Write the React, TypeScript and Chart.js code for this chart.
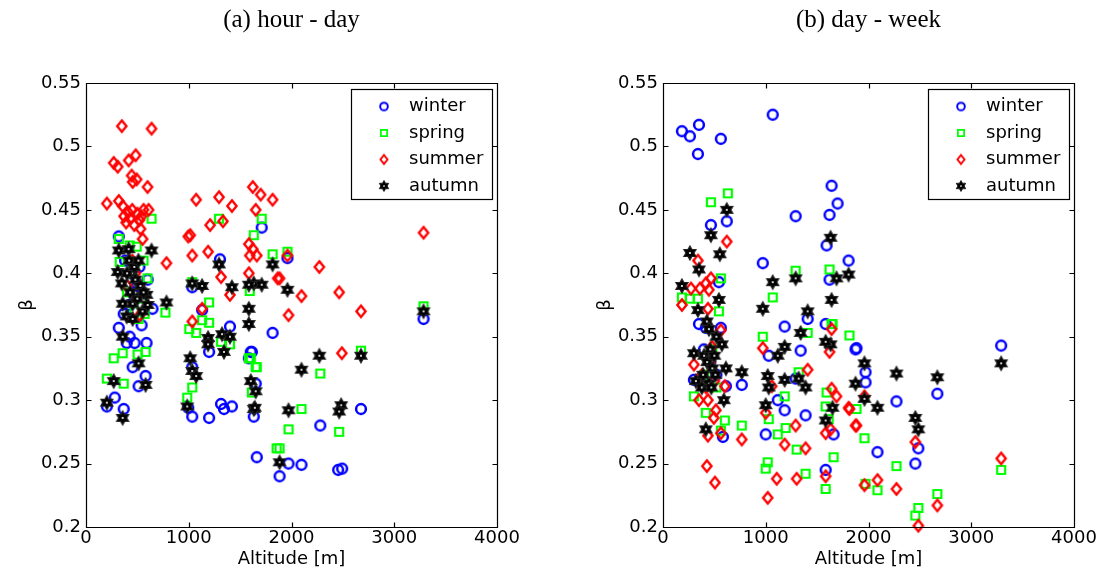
import React, { useEffect, useRef } from 'react';
import { Chart, registerables } from 'chart.js';

Chart.register(...registerables);

const FONT = "'DejaVu Sans', sans-serif";
const SERIF = "'Liberation Serif', 'Times New Roman', serif";

const panelTitles = ['(a) hour - day', '(b) day - week'];
const seriesNames = ['winter', 'spring', 'summer', 'autumn'];
const xTicks = [0, 1000, 2000, 3000, 4000];
const yTicks = [0.2, 0.25, 0.3, 0.35, 0.4, 0.45, 0.5, 0.55];
const xTitle = 'Altitude [m]';
const yTitle = 'β';

// (a) hour - day : [altitude, beta]
const winterHourDay: [number, number][] = [
  [319, .429], [1710, .436], [1304, .411], [1961, .412], [3285, .364], [1816, .353], [1614, .338],
  [1652, .313], [1633, .287], [2676, .293], [2280, .280], [1662, .255], [1884, .240], [1971, .250],
  [2097, .249], [2454, .245], [2493, .246], [319, .357], [367, .368], [541, .359], [589, .345],
  [425, .35], [473, .345], [396, .345], [454, .326], [580, .319], [512, .311], [280, .302], [203, .295],
  [367, .293], [1034, .326], [1198, .338], [1401, .358], [1314, .297], [1343, .293], [1420, .295],
  [1034, .287], [1198, .286], [995, .294], [1604, .338], [1585, .333], [1034, .389], [1130, .371],
  [647, .372], [440, .40], [470, .385], [500, .39], [420, .375], [380, .41], [520, .405], [600, .395],
];
const springHourDay: [number, number][] = [
  [319, .427], [638, .443], [1710, .443], [1295, .443], [1633, .43], [1816, .415], [1034, .393],
  [1198, .377], [773, .369], [1961, .417], [1594, .386], [3285, .374], [2676, .339], [1652, .326],
  [2280, .321], [2097, .293], [1971, .277], [2464, .275], [1884, .262], [1585, .333], [512, .364],
  [570, .368], [1005, .356], [1072, .353], [1130, .363], [1198, .361], [1314, .346], [1401, .344],
  [270, .333], [357, .337], [502, .336], [580, .338], [203, .317], [367, .313], [1034, .31], [985, .302],
  [1604, .333], [1662, .326], [1614, .306], [1855, .262], [425, .422], [493, .421], [328, .409],
  [599, .396], [450, .40], [560, .41], [400, .385], [540, .38], [470, .37],
];
const summerHourDay: [number, number][] = [
  [203, .455], [270, .487], [309, .484], [348, .516], [415, .489], [483, .493], [444, .477], [493, .474],
  [454, .472], [599, .468], [638, .514], [319, .457], [357, .453], [370, .445], [390, .44], [410, .448],
  [430, .443], [450, .45], [470, .438], [500, .447], [520, .442], [540, .445], [560, .45], [609, .45],
  [531, .435], [551, .427], [783, .408], [1072, .458], [1295, .46], [1420, .453], [1208, .438],
  [1333, .441], [995, .429], [1014, .43], [1034, .414], [1188, .417], [1314, .397], [1401, .383],
  [1623, .468], [1700, .462], [1816, .458], [1652, .45], [1585, .423], [1623, .419], [1594, .414],
  [1662, .414], [1585, .4], [1865, .396], [3285, .432], [2271, .405], [1884, .396], [2097, .382],
  [2464, .385], [1971, .367], [2676, .37], [1961, .414], [2490, .337], [522, .367], [1130, .372],
  [1034, .362], [450, .41], [400, .39], [480, .40],
];
const autumnHourDay: [number, number][] = [
  [319, .418], [638, .418], [415, .419], [309, .401], [348, .392], [1034, .392], [1130, .39], [1295, .407],
  [1420, .389], [1585, .372], [1633, .392], [1710, .391], [1816, .407], [783, .377], [357, .376],
  [454, .376], [589, .383], [1585, .391], [1961, .387], [1585, .36], [3285, .37], [2271, .335],
  [2676, .335], [2097, .324], [1604, .315], [1652, .307], [1633, .293], [1971, .292], [2483, .296],
  [2464, .291], [1884, .251], [357, .35], [512, .329], [270, .315], [580, .312], [203, .298], [357, .286],
  [1014, .333], [1034, .323], [1072, .319], [985, .295], [1188, .349], [1188, .344], [1324, .352],
  [1401, .35], [1343, .338], [1643, .294], [396, .366], [454, .364], [420, .41], [450, .40], [480, .395],
  [400, .40], [500, .38], [530, .39], [560, .385], [430, .385], [470, .405], [510, .41], [550, .37],
  [600, .375],
];

// (b) day - week : [altitude, beta]
const winterDayWeek: [number, number][] = [
  [184, .512], [262, .508], [350, .517], [340, .494], [563, .506], [1068, .525], [1641, .469], [1699, .455],
  [1291, .445], [1621, .446], [1592, .422], [1806, .41], [466, .438], [621, .441], [971, .408], [1621, .395],
  [544, .393], [3291, .343], [1883, .341], [1971, .322], [1971, .314], [2272, .299], [2670, .305],
  [1660, .273], [2087, .259], [2456, .25], [2485, .262], [350, .36], [417, .357], [563, .357], [1029, .335],
  [1184, .358], [1340, .339], [1408, .364], [1583, .36], [1874, .34], [1291, .317], [767, .312],
  [1184, .292], [1117, .3], [1388, .288], [1000, .273], [583, .271], [1583, .245], [301, .316],
  [369, .315], [612, .311], [398, .34], [460, .33], [520, .32],
];
const springDayWeek: [number, number][] = [
  [466, .456], [631, .463], [563, .396], [1291, .402], [1621, .403], [1068, .381], [184, .381], [340, .38],
  [1650, .36], [1815, .351], [1883, .293], [1612, .285], [1961, .27], [1660, .255], [2272, .248],
  [1971, .234], [2087, .229], [2670, .226], [2485, .215], [2456, .209], [3291, .245], [544, .37],
  [971, .35], [1408, .353], [1641, .36], [1320, .322], [1184, .303], [1592, .306], [1583, .295],
  [1029, .285], [1194, .278], [1117, .273], [1301, .261], [767, .28], [602, .284], [417, .29], [301, .303],
  [563, .276], [1019, .251], [1000, .246], [1388, .242], [1583, .23], [260, .38], [400, .32], [480, .34],
  [520, .31],
];
const summerDayWeek: [number, number][] = [
  [340, .41], [621, .425], [466, .396], [417, .392], [359, .388], [272, .388], [447, .387], [184, .375],
  [437, .372], [563, .355], [476, .342], [301, .328], [602, .311], [437, .3], [515, .292], [495, .286],
  [563, .274], [437, .272], [767, .269], [427, .248], [505, .235], [971, .341], [1000, .29], [1058, .311],
  [1408, .324], [1291, .28], [1184, .265], [1388, .262], [1107, .238], [1301, .238], [1019, .223],
  [1641, .356], [1621, .338], [1641, .309], [1689, .303], [1806, .294], [1874, .28], [1583, .274],
  [1631, .277], [1583, .24], [1815, .293], [1961, .303], [1883, .28], [2456, .267], [1961, .233],
  [2087, .237], [2272, .23], [2670, .217], [2485, .201], [3291, .254], [380, .32], [420, .31], [460, .33],
  [500, .315], [350, .30],
];
const autumnDayWeek: [number, number][] = [
  [621, .45], [466, .43], [553, .415], [262, .416], [350, .403], [184, .39], [1631, .428], [1068, .393],
  [1291, .396], [1689, .396], [1806, .399], [544, .379], [1641, .379], [1631, .344], [1961, .329],
  [1874, .313], [1961, .301], [2087, .294], [2272, .321], [2670, .318], [2456, .286], [2485, .277],
  [3291, .329], [1650, .294], [340, .371], [971, .372], [1408, .37], [1340, .353], [1184, .342],
  [1117, .335], [1583, .346], [301, .337], [427, .362], [447, .356], [573, .344], [612, .325], [767, .322],
  [1019, .319], [1029, .31], [1184, .316], [1320, .317], [1388, .31], [1000, .296], [592, .3], [417, .277],
  [1583, .284], [320, .315], [378, .31], [447, .313], [400, .335], [430, .33], [460, .34], [480, .325],
  [500, .335], [520, .35], [390, .32], [470, .31], [510, .32],
];

const hourDay = [winterHourDay, springHourDay, summerHourDay, autumnHourDay];
const dayWeek = [winterDayWeek, springDayWeek, summerDayWeek, autumnDayWeek];

type Kind = 'circle' | 'square' | 'diamond' | 'hexagram';
const kinds: Kind[] = ['circle', 'square', 'diamond', 'hexagram'];

function makeMarker(kind: Kind, s: number): HTMLCanvasElement {
  const size = Math.ceil(22 * s);
  const c = document.createElement('canvas');
  c.width = size;
  c.height = size;
  const ctx = c.getContext('2d')!;
  const cx = size / 2;
  const cy = size / 2;
  ctx.lineJoin = 'miter';
  ctx.beginPath();
  if (kind === 'circle') {
    ctx.strokeStyle = '#0000ff';
    ctx.lineWidth = 2.5 * s;
    ctx.arc(cx, cy, 4.9 * s, 0, Math.PI * 2);
    ctx.stroke();
  } else if (kind === 'square') {
    ctx.strokeStyle = '#00ff00';
    ctx.lineWidth = 2.2 * s;
    const h = 4 * s;
    ctx.rect(cx - h, cy - h, 2 * h, 2 * h);
    ctx.stroke();
  } else if (kind === 'diamond') {
    ctx.strokeStyle = '#ff0000';
    ctx.lineWidth = 2.4 * s;
    ctx.moveTo(cx, cy - 5.7 * s);
    ctx.lineTo(cx + 4.6 * s, cy);
    ctx.lineTo(cx, cy + 5.7 * s);
    ctx.lineTo(cx - 4.6 * s, cy);
    ctx.closePath();
    ctx.stroke();
  } else {
    ctx.fillStyle = '#000000';
    ctx.strokeStyle = '#222222';
    ctx.lineWidth = 1.2 * s;
    const R = 7 * s;
    const r = R / Math.sqrt(3);
    for (let i = 0; i < 12; i++) {
      const a = -Math.PI / 2 + (i * Math.PI) / 6;
      const rad = i % 2 === 0 ? R : r;
      const px = cx + rad * Math.cos(a);
      const py = cy + rad * Math.sin(a);
      if (i === 0) ctx.moveTo(px, py);
      else ctx.lineTo(px, py);
    }
    ctx.closePath();
    ctx.fill();
    ctx.stroke();
    ctx.beginPath();
    ctx.fillStyle = '#ffffff';
    ctx.arc(cx, cy, 1.1 * s, 0, Math.PI * 2);
    ctx.fill();
  }
  return c;
}

const framePlugin = {
  id: 'frameTicks',
  afterDatasetsDraw(chart: any) {
    const { ctx, chartArea, scales } = chart;
    const L = Math.round(chartArea.left) + 0.5;
    const R = Math.round(chartArea.right) + 0.5;
    const T = Math.round(chartArea.top) + 0.5;
    const B = Math.round(chartArea.bottom) + 0.5;
    ctx.save();
    ctx.strokeStyle = '#000';
    ctx.lineWidth = 1.2;
    ctx.beginPath();
    ctx.rect(L, T, R - L, B - T);
    const tl = 5;
    xTicks.forEach((v) => {
      const px = Math.round(scales.x.getPixelForValue(v)) + 0.5;
      ctx.moveTo(px, B);
      ctx.lineTo(px, B - tl);
      ctx.moveTo(px, T);
      ctx.lineTo(px, T + tl);
    });
    yTicks.forEach((v) => {
      const py = Math.round(scales.y.getPixelForValue(v)) + 0.5;
      ctx.moveTo(L, py);
      ctx.lineTo(L + tl, py);
      ctx.moveTo(R, py);
      ctx.lineTo(R - tl, py);
    });
    ctx.stroke();
    ctx.restore();
  },
};

function makeLegendPlugin(markers: HTMLCanvasElement[]) {
  return {
    id: 'boxLegend',
    afterDraw(chart: any) {
      const { ctx, chartArea } = chart;
      const w = 141;
      const h = 110;
      const left = Math.round(chartArea.right - 5 - w);
      const top = Math.round(chartArea.top + 6);
      ctx.save();
      ctx.fillStyle = '#fff';
      ctx.fillRect(left, top, w, h);
      ctx.strokeStyle = '#000';
      ctx.lineWidth = 1.2;
      ctx.strokeRect(left + 0.5, top + 0.5, w, h);
      chart.data.datasets.forEach((ds: any, i: number) => {
        const y = top + 17.5 + i * 26.5;
        const img = markers[i];
        ctx.drawImage(img, left + 33 - img.width / 2, y - img.height / 2);
        ctx.fillStyle = '#000';
        ctx.font = `18px ${FONT}`;
        ctx.textBaseline = 'middle';
        ctx.textAlign = 'left';
        ctx.fillText(ds.label, left + 58, y);
      });
      ctx.restore();
    },
  };
}

interface PanelProps {
  title: string;
  series: [number, number][][];
  width: number;
  yWidth: number;
  padRight: number;
  betaPad: number;
}

function Panel({ title, series, width, yWidth, padRight, betaPad }: PanelProps) {
  const ref = useRef<HTMLCanvasElement>(null);
  useEffect(() => {
    if (!ref.current) return;
    const plotMarkers = kinds.map((k) => makeMarker(k, 1));
    const legendMarkers = kinds.map((k) => makeMarker(k, 0.78));
    const orders = [3, 2, 1, 0];
    const chart = new Chart(ref.current, {
      type: 'scatter',
      data: {
        datasets: seriesNames.map((name, i) => ({
          label: name,
          data: series[i].map(([x, y]) => ({ x, y })),
          pointStyle: plotMarkers[i] as any,
          pointRadius: 6,
          order: orders[i],
          clip: false as any,
        })),
      },
      options: {
        responsive: false,
        animation: false,
        events: [],
        layout: { padding: { left: 0, right: padRight, top: 0, bottom: 0 } },
        plugins: {
          legend: { display: false },
          tooltip: { enabled: false },
          title: {
            display: true,
            text: title,
            fullSize: false,
            color: '#000',
            font: { family: SERIF, size: 25, weight: 'normal' as any },
            padding: { top: 5, bottom: 48 },
          },
        },
        scales: {
          x: {
            type: 'linear',
            min: 0,
            max: 4000,
            afterBuildTicks: (s: any) => {
              s.ticks = xTicks.map((v) => ({ value: v }));
            },
            afterFit: (s: any) => {
              s.height = 51;
            },
            grid: { display: false, drawTicks: false },
            border: { display: false },
            ticks: {
              padding: 1,
              color: '#000',
              font: { family: FONT, size: 18 },
              maxRotation: 0,
              autoSkip: false,
              callback: (v: any) => String(v),
            },
            title: {
              display: true,
              text: xTitle,
              color: '#000',
              font: { family: FONT, size: 18 },
              padding: { top: 0, bottom: 8 },
            },
          },
          y: {
            type: 'linear',
            min: 0.2,
            max: 0.55,
            afterBuildTicks: (s: any) => {
              s.ticks = yTicks.map((v) => ({ value: v }));
            },
            afterFit: (s: any) => {
              s.width = yWidth;
            },
            grid: { display: false, drawTicks: false },
            border: { display: false },
            ticks: {
              padding: 5,
              color: '#000',
              font: { family: FONT, size: 18 },
              autoSkip: false,
              callback: (v: any) => String(+Number(v).toFixed(2)),
            },
            title: {
              display: true,
              text: yTitle,
              color: '#000',
              font: { family: FONT, size: 18 },
              padding: { top: betaPad, bottom: 0 },
            },
          },
        },
      },
      plugins: [framePlugin, makeLegendPlugin(legendMarkers)],
    });
    return () => chart.destroy();
  }, [title, series, width, yWidth, padRight, betaPad]);
  return <canvas ref={ref} width={width} height={578} />;
}

export default function App() {
  return (
    <div style={{ position: 'fixed', left: 0, top: 0, width: 1104, height: 578, background: '#fff', overflow: 'hidden' }}>
      <div style={{ position: 'absolute', left: 0, top: 0 }}>
        <Panel title={panelTitles[0]} series={hourDay} width={540} yWidth={86} padRight={43} betaPad={17} />
      </div>
      <div style={{ position: 'absolute', left: 560, top: 0 }}>
        <Panel title={panelTitles[1]} series={dayWeek} width={544} yWidth={103} padRight={30} betaPad={35} />
      </div>
    </div>
  );
}
